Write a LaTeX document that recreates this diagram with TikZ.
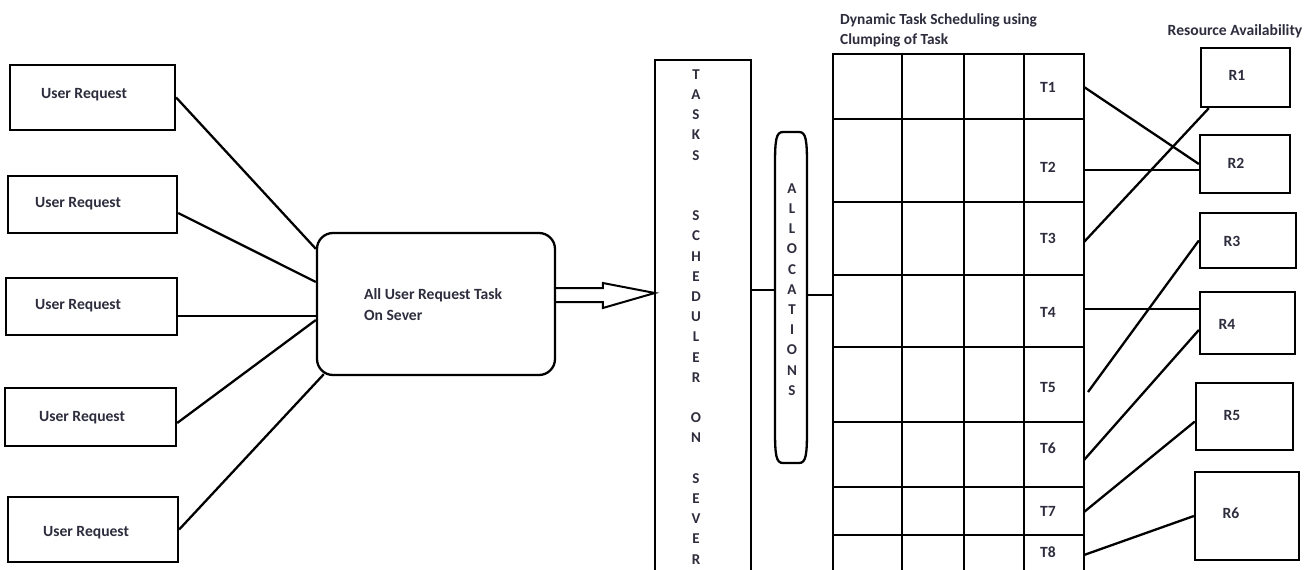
\documentclass[tikz,border=0pt]{standalone}
\usepackage{fontspec}
\setmainfont{Carlito}
\usetikzlibrary{calc}
\definecolor{txt}{RGB}{45,45,62}
\begin{document}
\begin{tikzpicture}[x=1pt,y=-1pt,line width=2.3pt,
  every node/.style={inner sep=0pt,text=txt,font=\fontsize{15.6}{18}\selectfont\bfseries},
  box/.style 2 args={draw,rectangle,minimum width=#1,minimum height=#2},
  ghost/.style 2 args={rectangle,minimum width=#1,minimum height=#2},
  lbl/.style={anchor=mid west},
  letter/.style={anchor=mid,font=\fontsize{15}{17}\selectfont\bfseries},
  conn/.style={line width=2.3pt}]
\useasboundingbox (0,0) rectangle (1315,570);

% user request boxes
\node[box={165}{65}] (ur1) at (92.5,97.5) {};
\node[box={169}{57}] (ur2) at (92.5,204.5) {};
\node[box={171}{57}] (ur3) at (91.5,306.5) {};
\node[box={171}{58}] (ur4) at (90.5,417) {};
\node[box={170}{65}] (ur5) at (93,529.5) {};
\node[lbl] (ur1t) at (40,96) {User Request};
\node[lbl] (ur2t) at (34,205) {User Request};
\node[lbl] (ur3t) at (34,307) {User Request};
\node[lbl] (ur4t) at (38,419) {User Request};
\node[lbl] (ur5t) at (42,534) {User Request};

% server box
\node[box={238}{142},rounded corners=16pt] (srv) at (436,304) {};
\node[anchor=west,align=left,font=\fontsize{15.6}{21}\selectfont\bfseries] (srvt) at (363,305)
  {All User Request Task\\On Sever};

\draw[conn] (ur1.east) -- ($(srv.north west)+(0,17)$);
\draw[conn] ($(ur2.east)+(0,8.5)$) -- ($(srv.west)+(0,-22)$);
\draw[conn] ($(ur3.east)+(0,9.5)$) -- ($(srv.west)+(0,12)$);
\draw[conn] ($(ur4.east)+(0,6)$) -- ($(srv.west)+(0,16)$);
\draw[conn] (ur5.east) -- ($(srv.south west)+(8,-2)$);

% scheduler (open at the bottom)
\node[ghost={94}{514}] (sched) at (703,318) {};
\draw (sched.south west) -- (sched.north west) -- (sched.north east) -- (sched.south east);
\foreach \c/\i in {T/0,A/1,S/2,K/3,S/4,S/7,C/8,H/9,E/10,D/11,U/12,L/13,E/14,R/15,O/17,N/18,S/20,E/21,V/22,E/23,R/24}
  \node[letter] (s\i) at (696,{77+20.2*\i}) {\c};

% hollow arrow
\coordinate (tip) at (sched.west |- 0,293);
\draw[line width=2pt,line join=miter] ($(srv.east)+(0,-16)$) -- ($(tip)+(-52,-5)$) -- ($(tip)+(-52,-10)$)
  -- (tip) -- ($(tip)+(-52,15)$) -- ($(tip)+(-52,9)$) -- ($(srv.east)+(0,-2)$);

% allocations
\node[ghost={32}{331}] (alloc) at (791,297.5) {};
\draw (775,165) .. controls (775,140) and (776,132) .. (783,132) -- (799,132)
  .. controls (806,132) and (807,140) .. (807,165) -- (807,430)
  .. controls (807,455) and (806,463) .. (799,463) -- (783,463)
  .. controls (776,463) and (775,455) .. (775,430) -- cycle;
\foreach \c/\i in {A/0,L/1,L/2,O/3,C/4,A/5,T/6,I/7,O/8,N/9,S/10}
  \node[letter] (a\i) at (792,{191+20.2*\i}) {\c};

% grid
\node[ghost={251}{521}] (grid) at (958.5,314.5) {};
\draw[conn] (sched.east |- 0,290) -- (alloc.west |- 0,290);
\draw[conn] (alloc.east |- 0,295) -- (grid.west |- 0,295);
\foreach \x in {833,902,964,1024,1084}
  \draw[line cap=rect] (\x,54) -- (\x,578);
\foreach \y in {54,119,202,275,347,422,487,535}
  \draw[line cap=rect] (833,\y) -- (1084,\y);
\foreach \t/\y in {1/87,2/167,3/238,4/312,5/387,6/448,7/511,8/552}
  \node (t\t) at (1048,\y) {T\t};
\node[anchor=west,align=left,font=\fontsize{15.4}{20}\selectfont\bfseries] (title) at (839,30)
  {Dynamic Task Scheduling using\\Clumping of Task};

% resources
\node[anchor=mid] (restitle) at (1235,33) {Resource Availability};
\node[box={89}{59}] (r1) at (1245.5,77.5) {};
\node[box={90}{58}] (r2) at (1245,164) {};
\node[box={96}{55}] (r3) at (1248,240.5) {};
\node[box={95}{62}] (r4) at (1247.5,323) {};
\node[box={97}{67}] (r5) at (1244.5,416.5) {};
\node[box={104}{88}] (r6) at (1247,516) {};
\node[anchor=mid] (r1t) at (1237,78) {R1};
\node[anchor=mid] (r2t) at (1236,166) {R2};
\node[anchor=mid] (r3t) at (1232,244) {R3};
\node[anchor=mid] (r4t) at (1227,327) {R4};
\node[anchor=mid] (r5t) at (1232,418) {R5};
\node[anchor=mid] (r6t) at (1231,516) {R6};

% task to resource links
\coordinate (p1) at (1084,87);
\coordinate (p2) at (1084,170);
\coordinate (p3) at (1084,242);
\coordinate (p4) at (1084,309);
\coordinate (p5) at (1088,392);
\coordinate (p6) at (1084,460);
\coordinate (p7) at (1084,512);
\coordinate (p8) at (1084,555);
\draw[conn] (p1) -- (r2.west);
\draw[conn] (p2) -- (r2.west |- p2);
\draw[conn] (p3) -- ($(r1.south west)+(9,0)$);
\draw[conn] (p4) -- (r4.west |- p4);
\draw[conn] (p5) -- (r3.west);
\draw[conn] (p6) -- ($(r4.west)+(0,7)$);
\draw[conn] (p7) -- ($(r5.west)+(0,5)$);
\draw[conn] (p8) -- (r6.west);
\end{tikzpicture}
\end{document}
